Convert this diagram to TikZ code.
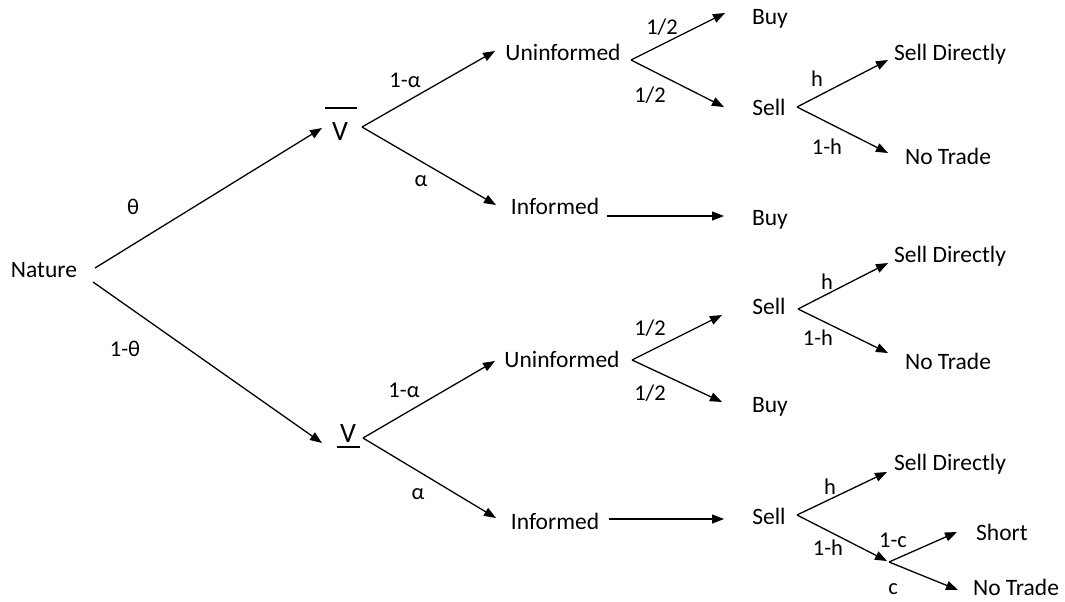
\documentclass[tikz,border=0pt]{standalone}
\usepackage{fontspec}
\setmainfont{Carlito}
\usetikzlibrary{arrows.meta}
\begin{document}
\begin{tikzpicture}[x=1pt,y=-1pt,
  txt/.style={inner sep=0pt,text height=15pt,text depth=0pt,font=\fontsize{23.5}{27}\selectfont},
  lbl/.style={inner sep=0pt,text height=14.5pt,text depth=0pt,font=\fontsize{22.5}{26}\selectfont},
  bigv/.style={inner sep=0pt,text height=18pt,text depth=0pt,font=\fontsize{28}{32}\selectfont},
  arr/.style={line width=1.3pt,-{Triangle[length=12pt,width=9pt]}},
  ln/.style={line width=1.3pt}]
\fill[white] (0,0) rectangle (1065,602);
\useasboundingbox (0,0) rectangle (1065,602);
% nodes
\node[txt] (nature) at (44,270) {Nature};
\node[bigv] (vbar) at (340,131) {V};
\node[bigv] (vund) at (348,433) {V};
\node[txt] (un1) at (563,53) {Uninformed};
\node[txt] (inf1) at (555,207) {Informed};
\node[txt] (buy1) at (770,17) {Buy};
\node[txt] (sell1) at (769,108) {Sell};
\node[txt] (sd1) at (950,53) {Sell Directly};
\node[txt] (nt1) at (948,157) {No Trade};
\node[txt] (buy2) at (770,218) {Buy};
\node[txt] (un2) at (562,360) {Uninformed};
\node[txt] (sell2) at (769,307) {Sell};
\node[txt] (buy3) at (770,405) {Buy};
\node[txt] (sd2) at (950,255) {Sell Directly};
\node[txt] (nt2) at (948,362) {No Trade};
\node[txt] (inf2) at (555,522) {Informed};
\node[txt] (sell3) at (769,517) {Sell};
\node[txt] (sd3) at (950,463) {Sell Directly};
\node[txt] (short) at (1002,533) {Short};
\node[txt] (nt3) at (1016,588) {No Trade};
% bars on V
\draw[line width=1.3pt] (325,108) coordinate (ob1) -- (357,108) coordinate (ob2);
\draw[line width=1.6pt] (337,447) coordinate (ub1) -- (360,447) coordinate (ub2);
% connector coordinates
\coordinate (natS1) at (95,268);  \coordinate (natS2) at (93,282);
\coordinate (vbT) at (322,128);   \coordinate (vuT) at (322,443);
\coordinate (vbS) at (362,127);   \coordinate (vuS) at (363,438);
\coordinate (un1T) at (495,51);   \coordinate (inf1T) at (496,205);
\coordinate (un1S) at (631,60);
\coordinate (buy1T) at (725,13);  \coordinate (sell1T) at (724,107);
\coordinate (inf1S) at (607,216); \coordinate (buy2T) at (724,216);
\coordinate (sell1S) at (797,107);
\coordinate (sd1T) at (888,60);   \coordinate (nt1T) at (888,153);
\coordinate (un2T) at (495,361);  \coordinate (inf2T) at (496,518);
\coordinate (un2S) at (632,360);
\coordinate (sell2T) at (722,315); \coordinate (buy3T) at (722,402);
\coordinate (sell2S) at (798,309);
\coordinate (sd2T) at (888,263);  \coordinate (nt2T) at (888,353);
\coordinate (inf2S) at (609,519); \coordinate (sell3T) at (724,519);
\coordinate (sell3S) at (797,515);
\coordinate (sd3T) at (887,472);  \coordinate (brT) at (887,561);
\coordinate (br) at (889,562);
\coordinate (shortT) at (957,532); \coordinate (nt3T) at (958,590);
% connectors
\draw[arr] (natS1) -- (vbT);
\draw[arr] (natS2) -- (vuT);
\draw[arr] (vbS) -- (un1T);
\draw[arr] (vbS) -- (inf1T);
\draw[arr] (un1S) -- (buy1T);
\draw[arr] (un1S) -- (sell1T);
\draw[arr] (inf1S) -- (buy2T);
\draw[arr] (sell1S) -- (sd1T);
\draw[arr] (sell1S) -- (nt1T);
\draw[arr] (vuS) -- (un2T);
\draw[arr] (vuS) -- (inf2T);
\draw[arr] (un2S) -- (sell2T);
\draw[arr] (un2S) -- (buy3T);
\draw[arr] (sell2S) -- (sd2T);
\draw[arr] (sell2S) -- (nt2T);
\draw[arr] (inf2S) -- (sell3T);
\draw[arr] (sell3S) -- (sd3T);
\draw[arr] (sell3S) -- (brT);
\draw[arr] (br) -- (shortT);
\draw[arr] (br) -- (nt3T);
% labels
\node[lbl] (l1) at (133,207) {θ};
\node[lbl] (l2) at (125,349) {1-θ};
\node[lbl] (l3) at (405,80) {1-α};
\node[lbl] (l4) at (421,179) {α};
\node[lbl] (l5) at (662,27) {1/2};
\node[lbl] (l6) at (650,95) {1/2};
\node[lbl] (l7) at (817,79) {h};
\node[lbl] (l8) at (827,147) {1-h};
\node[lbl] (l9) at (650,328) {1/2};
\node[lbl] (l10) at (650,393) {1/2};
\node[lbl] (l11) at (827,282) {h};
\node[lbl] (l12) at (818,338) {1-h};
\node[lbl] (l13) at (404,390) {1-α};
\node[lbl] (l14) at (418,492) {α};
\node[lbl] (l15) at (830,487) {h};
\node[lbl] (l16) at (828,548) {1-h};
\node[lbl] (l17) at (893,540) {1-c};
\node[lbl] (l18) at (893,587) {c};
\end{tikzpicture}
\end{document}
